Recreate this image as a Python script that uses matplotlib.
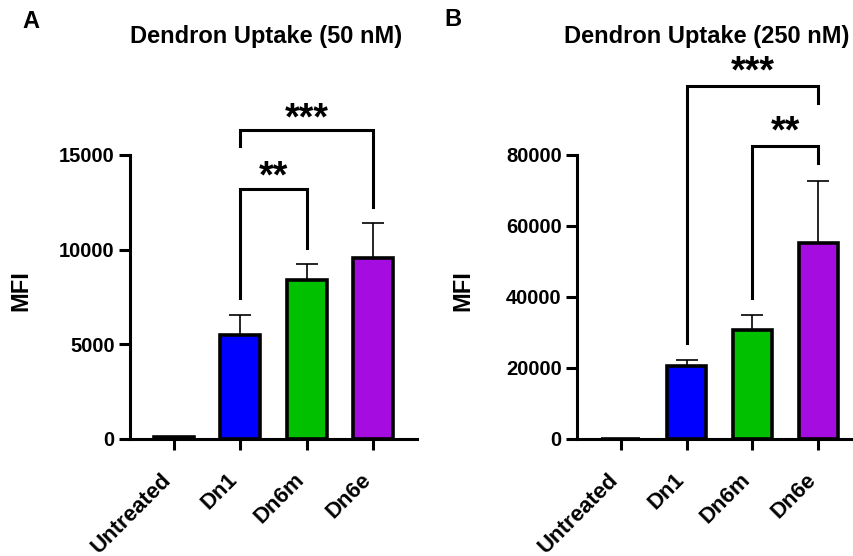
import numpy as np
import matplotlib.pyplot as plt
from matplotlib.transforms import ScaledTranslation

plt.rcParams["font.family"] = ["Liberation Sans", "DejaVu Sans"]
plt.rcParams["font.weight"] = "bold"

# data
groups = ["Untreated", "Dn1", "Dn6m", "Dn6e"]
colors = ["#000000", "#0000FF", "#00C000", "#A50CE0"]

mfi_50 = [80, 5480, 8420, 9560]
err_50 = [20, 1050, 840, 1830]

mfi_250 = [0, 20500, 30800, 55200]
err_250 = [0, 1650, 4100, 17500]

# brackets: (i, j, top, left leg end, right leg end, label)
brackets_50 = [
    (1, 3, 16300, 15500, 12250, "***"),
    (1, 2, 13200, 7450, 10100, "**"),
]
brackets_250 = [
    (1, 3, 99400, 27000, 94700, "***"),
    (2, 3, 82600, 39700, 77700, "**"),
]


def bracket(ax, i, j, top, yl, yr, label, gap):
    ax.plot([i, i, j, j], [yl, top, top, yr], color="black", lw=2.2,
            clip_on=False, solid_joinstyle="miter")
    ax.text((i + j) / 2, top + gap, label, ha="center", va="center",
            fontsize=27, fontweight="bold", clip_on=False)


def panel(ax, vals, errs, ymax, step, brackets, gap):
    x = np.arange(len(groups))
    face = ["white"] + colors[1:]
    ax.errorbar(x, vals, yerr=[np.zeros(len(errs)), errs], fmt="none",
                ecolor="black", elinewidth=1.2, capsize=8, capthick=1.2,
                zorder=1)
    ax.bar(x, vals, width=0.6, color=face, edgecolor="black", linewidth=2.6,
           zorder=2)
    ax.set_xlim(-0.66, 3.66)
    ax.set_ylim(0, ymax)
    ax.set_yticks(np.arange(0, ymax + 1, step))
    ax.set_xticks(x)
    ax.tick_params(axis="x", labelbottom=False)
    # rotated category labels, placed below the ticks
    shift = ScaledTranslation(-0.13, -0.30, ax.figure.dpi_scale_trans)
    trans = ax.get_xaxis_transform() + shift
    for xi, name in zip(x, groups):
        ax.text(xi, 0, name, transform=trans, rotation=45, ha="right",
                va="top", rotation_mode="anchor", fontsize=16,
                fontweight="bold")
    for lab in ax.get_yticklabels():
        lab.set_fontweight("bold")
        lab.set_fontsize(14.5)
    ax.spines["top"].set_visible(False)
    ax.spines["right"].set_visible(False)
    ax.spines["left"].set_linewidth(2.2)
    ax.spines["bottom"].set_linewidth(2.2)
    ax.tick_params(axis="both", length=8, width=2.2, pad=3)
    for b in brackets:
        bracket(ax, *b, gap=gap)


fig = plt.figure(figsize=(8.54, 5.56), dpi=100)
W, H = 854, 556
axA = fig.add_axes([130 / W, 1 - 439 / H, 287 / W, 284 / H])
axB = fig.add_axes([577 / W, 1 - 439 / H, 285 / W, 284 / H])

panel(axA, mfi_50, err_50, 15000, 5000, brackets_50, 600)
panel(axB, mfi_250, err_250, 80000, 20000, brackets_250, 3800)

fig.text(266 / W, 1 - 37 / H, "Dendron Uptake (50 nM)", ha="center",
         va="center", fontsize=17, fontweight="bold")
fig.text(707 / W, 1 - 37 / H, "Dendron Uptake (250 nM)", ha="center",
         va="center", fontsize=17, fontweight="bold")
fig.text(31 / W, 1 - 21 / H, "A", ha="center", va="center", fontsize=17,
         fontweight="bold")
fig.text(453 / W, 1 - 20 / H, "B", ha="center", va="center", fontsize=17,
         fontweight="bold")
fig.text(21 / W, 1 - 291 / H, "MFI", ha="center", va="center", rotation=90,
         fontsize=17, fontweight="bold")
fig.text(463 / W, 1 - 291 / H, "MFI", ha="center", va="center", rotation=90,
         fontsize=17, fontweight="bold")

fig.savefig("out.png", dpi=100)
